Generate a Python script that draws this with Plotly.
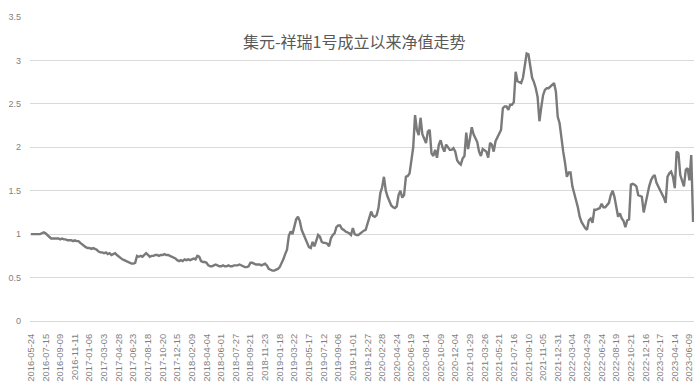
import datetime as dt
import plotly.graph_objects as go

tick_labels = [
    "2016-05-24", "2016-07-15", "2016-09-09", "2016-11-11", "2017-01-06", "2017-03-03",
    "2017-04-28", "2017-06-23", "2017-08-18", "2017-10-20", "2017-12-15", "2018-02-09",
    "2018-04-04", "2018-06-01", "2018-07-27", "2018-09-21", "2018-11-23", "2019-01-18",
    "2019-03-22", "2019-05-17", "2019-07-12", "2019-09-06", "2019-11-01", "2019-12-27",
    "2020-02-28", "2020-04-24", "2020-06-19", "2020-08-14", "2020-10-09", "2020-12-04",
    "2021-01-29", "2021-03-26", "2021-05-21", "2021-07-16", "2021-09-10", "2021-11-05",
    "2021-12-31", "2022-03-04", "2022-04-29", "2022-06-24", "2022-08-19", "2022-10-21",
    "2022-12-16", "2023-02-17", "2023-04-14", "2023-06-09",
]

nav = [
    1.00, 1.00, 1.00, 1.00, 1.00, 1.00, 1.01, 1.02,
    1.01, 0.99, 0.96, 0.95, 0.95, 0.95, 0.95, 0.95,
    0.94, 0.95, 0.94, 0.94, 0.93, 0.93, 0.93, 0.92,
    0.93, 0.92, 0.92, 0.90, 0.88, 0.86, 0.85, 0.84,
    0.84, 0.83, 0.84, 0.83, 0.82, 0.80, 0.79, 0.79,
    0.78, 0.79, 0.77, 0.78, 0.76, 0.77, 0.78, 0.76,
    0.74, 0.72, 0.71, 0.70, 0.69, 0.68, 0.67, 0.66,
    0.66, 0.67, 0.75, 0.74, 0.75, 0.74, 0.76, 0.78,
    0.76, 0.74, 0.75, 0.75, 0.76, 0.76, 0.75, 0.76,
    0.76, 0.77, 0.76, 0.76, 0.75, 0.74, 0.73, 0.72,
    0.70, 0.69, 0.70, 0.69, 0.71, 0.70, 0.71, 0.70,
    0.71, 0.72, 0.71, 0.75, 0.74, 0.69, 0.68, 0.68,
    0.67, 0.64, 0.63, 0.63, 0.64, 0.65, 0.64, 0.63,
    0.63, 0.64, 0.63, 0.63, 0.64, 0.63, 0.63, 0.64,
    0.64, 0.64, 0.65, 0.64, 0.63, 0.62, 0.62, 0.63,
    0.67, 0.67, 0.66, 0.65, 0.65, 0.65, 0.64, 0.65,
    0.66, 0.64, 0.60, 0.59, 0.58, 0.58, 0.59, 0.60,
    0.62, 0.66, 0.71, 0.77, 0.82, 0.98, 1.03, 1.00,
    1.10, 1.17, 1.20, 1.15, 1.05, 1.00, 0.97, 0.90,
    0.85, 0.84, 0.91, 0.86, 0.93, 0.99, 0.97, 0.91,
    0.90, 0.90, 0.89, 0.86, 0.95, 0.99, 1.01, 1.08,
    1.10, 1.10, 1.06, 1.05, 1.03, 1.02, 1.01, 0.99,
    1.07, 1.00, 0.99, 0.99, 1.01, 1.03, 1.04, 1.05,
    1.12, 1.20, 1.26, 1.21, 1.20, 1.22, 1.30, 1.47,
    1.54, 1.66, 1.50, 1.43, 1.38, 1.33, 1.31, 1.30,
    1.32, 1.45, 1.50, 1.42, 1.45, 1.66, 1.67, 1.70,
    1.85, 2.00, 2.37, 2.20, 2.14, 2.34, 2.15, 2.10,
    2.05, 2.18, 2.20, 1.93, 1.90, 1.97, 1.88, 2.03,
    2.08, 2.00, 1.95, 2.03, 2.00, 1.97, 1.97, 1.99,
    1.95, 1.85, 1.82, 1.80, 1.87, 1.90, 2.17, 1.98,
    2.10, 2.23, 2.15, 2.10, 2.06, 1.95, 1.90, 1.98,
    1.96, 1.95, 1.88, 2.05, 2.03, 1.95, 2.07, 2.12,
    2.16, 2.20, 2.45, 2.47, 2.47, 2.43, 2.49, 2.49,
    2.52, 2.87, 2.76, 2.75, 2.74, 2.80, 2.95, 3.08,
    3.07, 2.95, 2.80, 2.75, 2.68, 2.58, 2.30, 2.46,
    2.60, 2.66, 2.68, 2.68, 2.70, 2.72, 2.74, 2.64,
    2.35, 2.28, 2.08, 1.95, 1.82, 1.66, 1.71, 1.71,
    1.55, 1.45, 1.39, 1.31, 1.20, 1.14, 1.10, 1.07,
    1.05, 1.16, 1.18, 1.13, 1.28, 1.28, 1.29, 1.30,
    1.35, 1.31, 1.31, 1.34, 1.36, 1.45, 1.50, 1.43,
    1.30, 1.20, 1.24, 1.18, 1.15, 1.08, 1.16, 1.17,
    1.57, 1.58, 1.57, 1.55, 1.45, 1.44, 1.43, 1.25,
    1.37, 1.45, 1.55, 1.62, 1.66, 1.68, 1.59, 1.55,
    1.51, 1.47, 1.42, 1.36, 1.66, 1.70, 1.72, 1.66,
    1.53, 1.95, 1.93, 1.68, 1.60, 1.55, 1.74, 1.76,
    1.62, 1.91, 1.14,
]

y_ticks = [0, 0.5, 1, 1.5, 2, 2.5, 3, 3.5]
y_tick_text = ["0", "0.5", "1", "1.5", "2", "2.5", "3", "3.5"]
title_text = "集元-祥瑞1号成立以来净值走势"

# weekly category dates: each labelled date followed by the next weekly dates
dates = []
for lab in tick_labels:
    d0 = dt.date.fromisoformat(lab)
    for k in range(8):
        dates.append((d0 + dt.timedelta(days=7 * k)).isoformat())
dates = dates[:len(nav)]

fig = go.Figure(go.Scatter(
    x=dates, y=nav, mode="lines",
    line=dict(color="#7a7a7a", width=2.4),
    hoverinfo="x+y",
))

fig.update_layout(
    width=700, height=391,
    margin=dict(l=30, r=6, t=17, b=70),
    paper_bgcolor="white", plot_bgcolor="white",
    showlegend=False,
    title=dict(
        text=title_text, x=0.506, xanchor="center", y=1 - 42 / 391, yanchor="middle",
        xref="container", yref="container",
        font=dict(family="Noto Sans CJK SC", size=16, color="#595959"),
    ),
    font=dict(family="Liberation Sans", size=9, color="#7f7f7f"),
)

fig.update_xaxes(
    type="category", tickmode="array", tickvals=tick_labels, ticktext=tick_labels,
    tickangle=-90, tickfont=dict(size=9.4, color="#7f7f7f"),
    ticklabelstandoff=8,
    showgrid=False, showline=True, linecolor="#d9d9d9", linewidth=1,
    ticks="", range=[-0.5, len(nav) - 0.5],
)
fig.update_yaxes(
    range=[0, 3.5], tickmode="array", tickvals=y_ticks, ticktext=y_tick_text,
    ticklabelstandoff=8,
    showgrid=True, gridcolor="#d9d9d9", gridwidth=1, zeroline=False,
    showline=False, ticks="", tickfont=dict(size=9, color="#7f7f7f"),
)

fig.write_html("out.html")
